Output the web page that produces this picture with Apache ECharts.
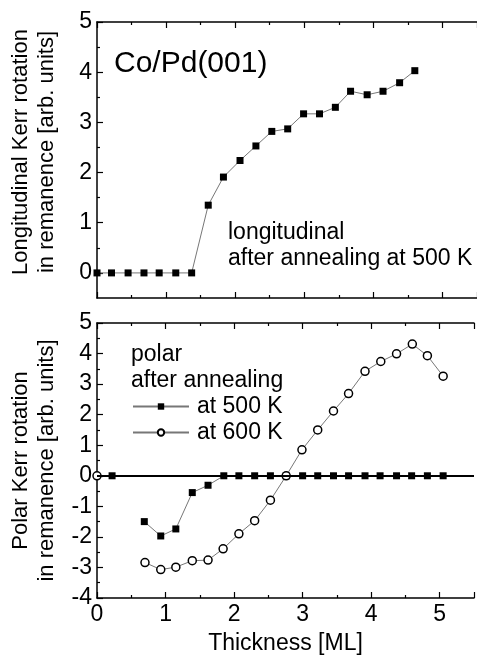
<!DOCTYPE html>
<html>
<head>
<meta charset="utf-8">
<script src="https://cdn.jsdelivr.net/npm/echarts@6/dist/echarts.min.js"></script>
<style>
html,body{margin:0;padding:0;background:#fff;}
#chart{width:477px;height:656px;}
</style>
</head>
<body>
<div id="chart"></div>
<script>
// ---- data ----
const thicknessLong = [0, 0.21, 0.45, 0.68, 0.90, 1.14, 1.37, 1.61, 1.83, 2.07, 2.30, 2.53, 2.76, 2.99, 3.22, 3.45, 3.67, 3.91, 4.14, 4.38, 4.60];
const kerrLong500 = [0, 0, 0, 0, 0, 0, 0, 1.35, 1.91, 2.24, 2.53, 2.82, 2.87, 3.17, 3.17, 3.30, 3.62, 3.55, 3.62, 3.79, 4.03];

const thicknessPolar500 = [0.22, 0.45, 0.69, 0.93, 1.15, 1.39, 1.62, 1.85, 2.07, 2.30, 2.53, 2.76, 3.00, 3.22, 3.45, 3.67, 3.91, 4.13, 4.37, 4.59, 4.82, 5.05];
const kerrPolar500 = [0, null, -1.50, -1.97, -1.74, -0.55, -0.31, 0, 0, 0, 0, 0, 0, 0, 0, 0, 0, 0, 0, 0, 0, 0];

const thicknessPolar600 = [0, 0.45, 0.70, 0.93, 1.15, 1.39, 1.62, 1.84, 2.07, 2.30, 2.53, 2.76, 2.99, 3.22, 3.45, 3.67, 3.91, 4.14, 4.37, 4.60, 4.82, 5.05];
const kerrPolar600 = [0, null, -2.84, -3.07, -2.99, -2.78, -2.76, -2.39, -1.90, -1.47, -0.80, 0, 0.85, 1.50, 2.12, 2.69, 3.42, 3.74, 3.99, 4.31, 3.93, 3.26];

const yTicksLong = [0, 1, 2, 3, 4, 5];
const yMinorTicksLong = [0.5, 1.5, 2.5, 3.5, 4.5];

const seriesNames = ['at 500 K', 'at 600 K'];
const titleLong = 'Longitudinal Kerr rotation\nin remanence [arb. units]';
const titlePolar = 'Polar Kerr rotation\nin remanence [arb. units]';
const titleX = 'Thickness [ML]';

// ---- chart ----
const FONT = '"Liberation Sans", Arial, sans-serif';
const FS = 23;
const zip = (xs, ys) => xs.map((x, i) => [x, ys[i] === null ? '-' : ys[i]]);

const lineBlack = { color: '#000', width: 1.5 };
function xAxisCfg(grid, pos, labels) {
  return {
    type: 'value', gridIndex: grid, position: pos, min: 0, max: 5.5, interval: 1,
    axisLine: { show: true, onZero: false, lineStyle: lineBlack },
    axisTick: { show: true, inside: true, length: 6, lineStyle: { color: '#000', width: 1.2 } },
    minorTick: { show: true, splitNumber: 2, length: 3, lineStyle: { color: '#000', width: 1.2 } },
    splitLine: { show: false },
    axisLabel: { show: labels, color: '#000', fontSize: FS, fontFamily: FONT, margin: 5,
      formatter: v => (v <= 5 ? String(v) : '') },
    name: labels ? titleX : '', nameLocation: 'middle', nameGap: 34,
    nameTextStyle: { color: '#000', fontSize: FS, fontFamily: FONT }
  };
}

const option = {
  animation: false,
  backgroundColor: '#fff',
  grid: [
    { left: 97, top: 22, width: 390, height: 276 },
    { left: 97, top: 323, width: 390, height: 278 }
  ],
  xAxis: [
    xAxisCfg(0, 'bottom', false),
    xAxisCfg(0, 'top', false),
    xAxisCfg(1, 'bottom', true),
    xAxisCfg(1, 'top', false)
  ],
  yAxis: [
    {
      type: 'value', gridIndex: 0, position: 'left', min: -0.5, max: 5,
      axisLine: { show: true, onZero: false, lineStyle: lineBlack },
      axisTick: { show: true, inside: true, length: 6, customValues: yTicksLong, lineStyle: { color: '#000', width: 1.2 } },
      axisLabel: { show: true, customValues: yTicksLong, color: '#000', fontSize: FS, fontFamily: FONT, margin: 5 },
      splitLine: { show: false },
      name: titleLong, nameLocation: 'middle', nameGap: 37,
      nameTextStyle: { color: '#000', fontSize: 22, fontFamily: FONT, lineHeight: 26, padding: [0, 0, 0, 16] }
    },
    {
      type: 'value', gridIndex: 0, position: 'left', min: -0.5, max: 5,
      axisLine: { show: false, onZero: false },
      axisTick: { show: true, inside: true, length: 3, customValues: yMinorTicksLong, lineStyle: { color: '#000', width: 1.2 } },
      axisLabel: { show: false },
      splitLine: { show: false }
    },
    {
      type: 'value', gridIndex: 1, position: 'left', min: -4, max: 5, interval: 1,
      axisLine: { show: true, onZero: false, lineStyle: lineBlack },
      axisTick: { show: true, inside: true, length: 6, lineStyle: { color: '#000', width: 1.2 } },
      minorTick: { show: true, splitNumber: 2, length: 3, lineStyle: { color: '#000', width: 1.2 } },
      axisLabel: { show: true, color: '#000', fontSize: FS, fontFamily: FONT, margin: 5 },
      splitLine: { show: false },
      name: titlePolar, nameLocation: 'middle', nameGap: 37,
      nameTextStyle: { color: '#000', fontSize: 22, fontFamily: FONT, lineHeight: 26 }
    }
  ],
  legend: {
    data: seriesNames,
    orient: 'vertical', left: 132, top: 395, padding: 0,
    itemWidth: 56, itemHeight: 8, itemGap: 3,
    textStyle: { color: '#000', fontSize: FS, fontFamily: FONT, lineHeight: 23, padding: [0, 0, 0, 3] }
  },
  graphic: [
    { type: 'text', x: 114, y: 64, style: { text: 'Co/Pd(001)', font: '30px ' + FONT, fill: '#000', verticalAlign: 'middle' } },
    { type: 'text', x: 228, y: 233, style: { text: 'longitudinal', font: FS + 'px ' + FONT, fill: '#000', verticalAlign: 'middle' } },
    { type: 'text', x: 228, y: 259, style: { text: 'after annealing at 500 K', font: FS + 'px ' + FONT, fill: '#000', verticalAlign: 'middle' } },
    { type: 'text', x: 131, y: 355, style: { text: 'polar', font: FS + 'px ' + FONT, fill: '#000', verticalAlign: 'middle' } },
    { type: 'text', x: 131, y: 381, style: { text: 'after annealing', font: FS + 'px ' + FONT, fill: '#000', verticalAlign: 'middle' } }
  ],
  series: [
    {
      name: 'longitudinal', type: 'line', xAxisIndex: 0, yAxisIndex: 0,
      data: zip(thicknessLong, kerrLong500),
      symbol: 'rect', symbolSize: 7,
      lineStyle: { color: '#777', width: 1 },
      itemStyle: { color: '#000' }
    },
    {
      name: seriesNames[0], type: 'line', xAxisIndex: 2, yAxisIndex: 2,
      data: zip(thicknessPolar500, kerrPolar500),
      symbol: 'rect', symbolSize: 7,
      lineStyle: { color: '#777', width: 1 },
      itemStyle: { color: '#000' },
      markLine: {
        silent: true, symbol: 'none', label: { show: false },
        lineStyle: { color: '#000', width: 1.8, type: 'solid' },
        data: [{ yAxis: 0 }]
      }
    },
    {
      name: seriesNames[1], type: 'line', xAxisIndex: 2, yAxisIndex: 2,
      data: zip(thicknessPolar600, kerrPolar600),
      symbol: 'circle', symbolSize: 8, z: 3,
      lineStyle: { color: '#777', width: 1 },
      itemStyle: { color: '#fff', borderColor: '#000', borderWidth: 1.5 }
    }
  ]
};

const chart = echarts.init(document.getElementById('chart'), null, { renderer: 'canvas' });
chart.setOption(option);
</script>
</body>
</html>
